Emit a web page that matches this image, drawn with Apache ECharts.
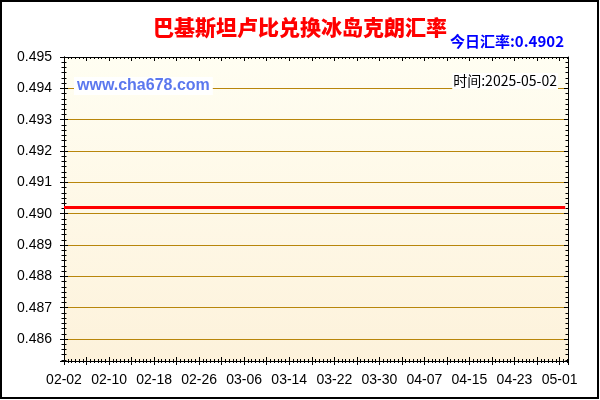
<!DOCTYPE html>
<html>
<head>
<meta charset="utf-8">
<script src="https://cdn.jsdelivr.net/npm/echarts@6/dist/echarts.min.js"></script>
<style>
  html, body { margin: 0; padding: 0; background: #fff; }
  #main { width: 600px; height: 400px; }
</style>
</head>
<body>
<div id="main"></div>
<script>
    // 日期（2025-02-02 ~ 2025-05-02）
    var dates = [
        '02-02','02-03','02-04','02-05','02-06','02-07','02-08','02-09','02-10','02-11',
        '02-12','02-13','02-14','02-15','02-16','02-17','02-18','02-19','02-20','02-21',
        '02-22','02-23','02-24','02-25','02-26','02-27','02-28','03-01','03-02','03-03',
        '03-04','03-05','03-06','03-07','03-08','03-09','03-10','03-11','03-12','03-13',
        '03-14','03-15','03-16','03-17','03-18','03-19','03-20','03-21','03-22','03-23',
        '03-24','03-25','03-26','03-27','03-28','03-29','03-30','03-31','04-01','04-02',
        '04-03','04-04','04-05','04-06','04-07','04-08','04-09','04-10','04-11','04-12',
        '04-13','04-14','04-15','04-16','04-17','04-18','04-19','04-20','04-21','04-22',
        '04-23','04-24','04-25','04-26','04-27','04-28','04-29','04-30','05-01','05-02'
    ];

    // 汇率
    var rates = [
        0.4902,0.4902,0.4902,0.4902,0.4902,0.4902,0.4902,0.4902,0.4902,0.4902,
        0.4902,0.4902,0.4902,0.4902,0.4902,0.4902,0.4902,0.4902,0.4902,0.4902,
        0.4902,0.4902,0.4902,0.4902,0.4902,0.4902,0.4902,0.4902,0.4902,0.4902,
        0.4902,0.4902,0.4902,0.4902,0.4902,0.4902,0.4902,0.4902,0.4902,0.4902,
        0.4902,0.4902,0.4902,0.4902,0.4902,0.4902,0.4902,0.4902,0.4902,0.4902,
        0.4902,0.4902,0.4902,0.4902,0.4902,0.4902,0.4902,0.4902,0.4902,0.4902,
        0.4902,0.4902,0.4902,0.4902,0.4902,0.4902,0.4902,0.4902,0.4902,0.4902,
        0.4902,0.4902,0.4902,0.4902,0.4902,0.4902,0.4902,0.4902,0.4902,0.4902,
        0.4902,0.4902,0.4902,0.4902,0.4902,0.4902,0.4902,0.4902,0.4902,0.4902
    ];

    var yMin = 0.4853;
    var yMax = 0.495;
    var xMax = 89.5;

    var latestRate = '0.4902';
    var latestDate = '2025-05-02';

    var chart = echarts.init(document.getElementById('main'));

    var labelFont = { color: '#000', fontSize: 14, fontFamily: 'Liberation Sans, Arial, sans-serif' };
    var tickBlack = { color: '#000', width: 1 };

    // 通用的x轴
    function xAxisBase(pos, inside, showLabel) {
        return {
            type: 'value', position: pos, min: 0, max: xMax, interval: 4,
            axisLine: { show: true, onZero: false, lineStyle: tickBlack },
            axisTick: { show: true, inside: inside, length: 4, lineStyle: tickBlack },
            minorTick: { show: true, splitNumber: 6, length: 2, lineStyle: tickBlack },
            splitLine: { show: false },
            axisLabel: showLabel ? Object.assign({
                margin: 12,
                showMaxLabel: false,
                formatter: function (v) {
                    return (v % 8 === 0 && dates[v]) ? dates[v] : '';
                }
            }, labelFont) : { show: false }
        };
    }

    function yAxisBase(pos, inside, showLabel, grid) {
        return {
            type: 'value', position: pos, min: yMin, max: yMax, splitNumber: 10,
            axisLine: { show: true, onZero: false, lineStyle: tickBlack },
            axisTick: { show: true, inside: inside, length: 4, lineStyle: tickBlack },
            minorTick: { show: true, splitNumber: 6, length: 2.5, lineStyle: tickBlack },
            splitLine: { show: grid, lineStyle: { color: '#B8860B', width: 1 } },
            axisLabel: showLabel ? Object.assign({
                margin: 12,
                showMinLabel: false,
                formatter: function (v) { return v.toFixed(3); }
            }, labelFont) : { show: false }
        };
    }

    var option = {
        animation: false,
        backgroundColor: '#fff',
        title: [
            {
                text: '巴基斯坦卢比兑换冰岛克朗汇率',
                left: 'center', top: 12,
                textStyle: { color: '#ff0000', fontSize: 21, fontWeight: 900, fontFamily: 'Noto Sans CJK SC' }
            },
            {
                text: '今日汇率:' + latestRate,
                right: 36, top: 34, padding: 0,
                textStyle: { color: '#0000ff', fontSize: 15, fontWeight: 'bold', fontFamily: 'Noto Sans CJK SC' }
            },
            {
                text: 'www.cha678.com',
                left: 74, top: 77, padding: [1, 3],
                backgroundColor: '#fff',
                textStyle: { color: '#5b78ee', fontSize: 16, fontWeight: 'bold', fontFamily: 'Liberation Sans, Arial' }
            },
            {
                text: '时间:' + latestDate,
                right: 42, top: 73, padding: [1, 1],
                backgroundColor: '#fff',
                textStyle: { color: '#000', fontSize: 14, fontWeight: 'normal', fontFamily: 'Noto Sans CJK SC' }
            }
        ],
        grid: {
            left: 64, right: 32, top: 57, bottom: 39,
            show: true, borderWidth: 0,
            backgroundColor: new echarts.graphic.LinearGradient(0, 0, 0, 1, [
                { offset: 0, color: '#fffef2' },
                { offset: 1, color: '#fdf2db' }
            ])
        },
        xAxis: [
            xAxisBase('bottom', false, true),
            xAxisBase('bottom', true, false),
            xAxisBase('top', true, false)
        ],
        yAxis: [
            yAxisBase('left', false, true, true),
            yAxisBase('left', true, false, false),
            yAxisBase('right', true, false, false)
        ],
        series: [{
            type: 'line',
            xAxisIndex: 0, yAxisIndex: 0,
            symbol: 'none',
            lineStyle: { color: '#ff0000', width: 3 },
            data: rates.map(function (r, i) { return [i, r]; }),
            z: 5
        }],
        graphic: [{
            type: 'rect',
            shape: { x: 1, y: 1, width: 597, height: 397 },
            style: { fill: 'none', stroke: '#000', lineWidth: 2 },
            z: 100
        }]
    };

    chart.setOption(option);
</script>
</body>
</html>
